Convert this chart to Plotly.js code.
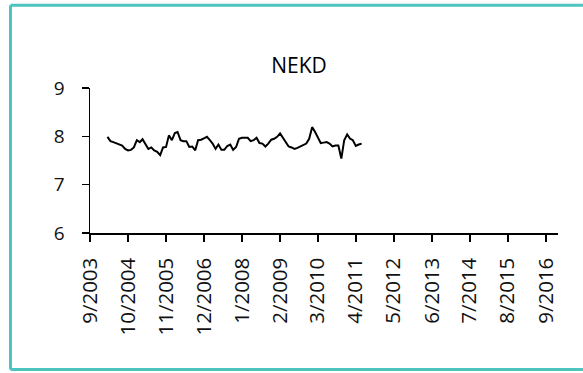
<!DOCTYPE html>
<html>
<head>
<meta charset="utf-8">
<script src="https://cdn.plot.ly/plotly-3.0.1.min.js"></script>
<style>
html,body{margin:0;padding:0;background:#fff;overflow:hidden;}
#chart{width:583px;height:373px;}
</style>
</head>
<body>
<div id="chart"></div>
<script>
// Series: monthly NEKD values from 3/2004 to 6/2011
var seriesStart = [2004, 3]; // year, month of first value
var nekdValues = [
  7.99, 7.90, 7.88, 7.86, 7.83, 7.81, 7.74, 7.71, 7.72, 7.77,
  7.92, 7.88, 7.94, 7.85, 7.74, 7.77, 7.71, 7.68, 7.61, 7.77,
  7.78, 8.02, 7.92, 8.07, 8.09, 7.92, 7.90, 7.90, 7.78, 7.79,
  7.71, 7.92, 7.93, 7.96, 7.99, 7.92, 7.85, 7.74, 7.83, 7.72,
  7.72, 7.80, 7.83, 7.72, 7.78, 7.95, 7.97, 7.97, 7.97, 7.90,
  7.92, 7.97, 7.86, 7.85, 7.79, 7.85, 7.93, 7.95, 7.99, 8.06,
  7.97, 7.88, 7.79, 7.77, 7.74, 7.76, 7.79, 7.82, 7.85, 7.95,
  8.19, 8.09, 7.97, 7.86, 7.87, 7.88, 7.85, 7.79, 7.81, 7.81,
  7.54, 7.92, 8.04, 7.95, 7.92, 7.80, 7.83, 7.85
];
var xTickDates = ['2003-09-01','2004-10-01','2005-11-01','2006-12-01','2008-01-01','2009-02-01',
  '2010-03-01','2011-04-01','2012-05-01','2013-06-01','2014-07-01','2015-08-01','2016-09-01'];
var xTickLabels = ['9/2003','10/2004','11/2005','12/2006','1/2008','2/2009',
  '3/2010','4/2011','5/2012','6/2013','7/2014','8/2015','9/2016'];
var yTickVals = [6, 7, 8, 9];

function pad(n){return n<10?'0'+n:''+n;}
var dates = [];
for (var i = 0; i < nekdValues.length; i++) {
  var m = seriesStart[1] - 1 + i;
  var y = seriesStart[0] + Math.floor(m / 12);
  dates.push(y + '-' + pad((m % 12) + 1) + '-01');
}

var F = 'Open Sans, Liberation Sans, sans-serif';
var trace = {
  x: dates, y: nekdValues, type: 'scatter', mode: 'lines',
  line: {color: '#000000', width: 2}, hoverinfo: 'x+y'
};

var BC = '#4ec4bf';
var bx0 = -0.1699, bx1 = 1.0534, byTop = 1.570, byBot = -0.9414;
var layout = {
  width: 583, height: 373,
  margin: {l: 90, r: 25, t: 88, b: 140},
  paper_bgcolor: '#ffffff', plot_bgcolor: '#ffffff',
  showlegend: false,
  title: {text: 'NEKD', font: {family: F, size: 21, color: '#000'},
          x: 0.513, xref: 'container', xanchor: 'center',
          y: 1 - 66/373, yref: 'container', yanchor: 'middle'},
  xaxis: {
    type: 'date', range: ['2003-09-01', '2017-01-05'],
    tickmode: 'array', tickvals: xTickDates, ticktext: xTickLabels,
    tickangle: -90, ticks: 'outside', ticklen: 7, tickwidth: 1.5, tickcolor: '#000',
    showline: true, linecolor: '#000', linewidth: 1.5,
    showgrid: false, zeroline: false,
    tickfont: {family: F, size: 20.5, color: '#111'},
    ticklabelstandoff: 8
  },
  yaxis: {
    range: [6, 9], tickmode: 'array', tickvals: yTickVals,
    ticks: 'outside', ticklen: 7, tickwidth: 1.5, tickcolor: '#000',
    showline: true, linecolor: '#000', linewidth: 1.5,
    showgrid: false, zeroline: false,
    tickfont: {family: F, size: 19, color: '#111'},
    ticklabelstandoff: 13
  },
  shapes: [
    {type: 'line', xref: 'paper', yref: 'paper', x0: bx0, x1: bx0, y0: byBot, y1: byTop,
     line: {color: BC, width: 3}, layer: 'below'},
    {type: 'line', xref: 'paper', yref: 'paper', x0: bx0, x1: bx1, y0: byTop, y1: byTop,
     line: {color: BC, width: 3}, layer: 'below'},
    {type: 'line', xref: 'paper', yref: 'paper', x0: bx0, x1: bx1, y0: byBot, y1: byBot,
     line: {color: BC, width: 3}, layer: 'below'}
  ]
};

Plotly.newPlot('chart', [trace], layout, {staticPlot: true, displayModeBar: false});
</script>
</body>
</html>
